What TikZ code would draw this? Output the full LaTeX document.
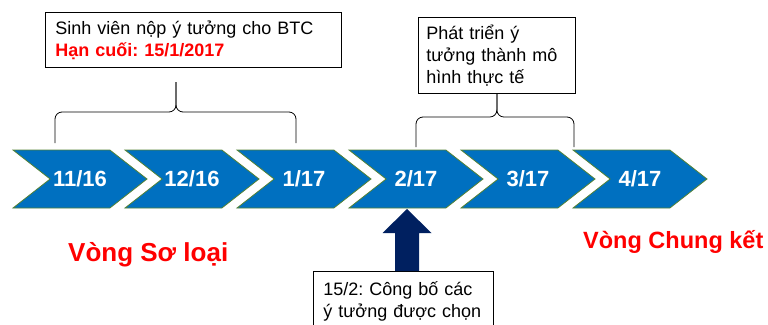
\documentclass[tikz,border=0pt]{standalone}
\usepackage{fontspec}
\setmainfont{Liberation Sans}
\usetikzlibrary{shapes.symbols}
\frenchspacing

\definecolor{chevblue}{RGB}{0,112,192}
\definecolor{chevedge}{RGB}{84,130,53}
\definecolor{arrownavy}{RGB}{0,32,96}

\begin{document}
\begin{tikzpicture}[x=1pt, y=1pt,
    chevron/.style={signal, signal to=east, signal from=west, signal pointer angle=76,
      minimum width=134pt, minimum height=58pt, inner sep=0pt,
      fill=chevblue, draw=chevedge, line width=0.8pt,
      text=white, font=\fontsize{22}{26}\selectfont\bfseries},
    notebox/.style={draw, line width=0.8pt, align=left, inner xsep=10pt,
      font=\fontsize{18}{22}\selectfont},
    braceline/.style={line width=0.8pt, rounded corners=7pt},
    stagelabel/.style={text=red, inner sep=0pt, anchor=base west}]
  \clip (0,0) rectangle (768,-324);

  % timeline
  \foreach \m [count=\i] in {11/16,12/16,1/17,2/17,3/17,4/17}
    \node[chevron] (c\i) at ({80+112*(\i-1)},-179) {\m};

  % notes above
  \node[notebox, text width=276pt, minimum width=296pt, minimum height=55pt,
    anchor=north west] (submit) at (45,-12)
    {Sinh viên nộp ý tưởng cho BTC\\ \textcolor{red}{\bfseries Hạn cuối: 15/1/2017}};
  \node[notebox, text width=141pt, inner xsep=8pt, minimum height=76pt,
    anchor=north west] (develop) at (418,-17)
    {Phát triển ý\\ tưởng thành mô\\ hình thực tế};

  \draw[braceline] (55,-143) |- (176,-112) -- (176,-82);
  \draw[braceline] (296,-143) |- (176,-112) -- (176,-82);
  \draw[braceline] (416,-147) |- (develop.south |- 0,-117) -- (develop.south);
  \draw[braceline] (574,-147) |- (develop.south |- 0,-117) -- (develop.south);

  % announcement
  \node[notebox, text width=160pt, inner ysep=10pt, anchor=north west]
    (announce) at (313,-271) {15/2: Công bố các\\ ý tưởng được chọn};
  \coordinate (uptip) at (407,-209);
  \fill[arrownavy] (uptip) -- ++(24.5,-24) -- ++(-12.5,0) -- ++(0,-38)
    -- ++(-24,0) -- ++(0,38) -- ++(-12.5,0) -- cycle;

  \node[stagelabel, font=\fontsize{26}{30}\selectfont\bfseries] (prelim)
    at (68,-261) {Vòng Sơ loại};
  \node[stagelabel, font=\fontsize{23.5}{28}\selectfont\bfseries] (final)
    at (583,-248) {Vòng Chung kết};
\end{tikzpicture}
\end{document}
